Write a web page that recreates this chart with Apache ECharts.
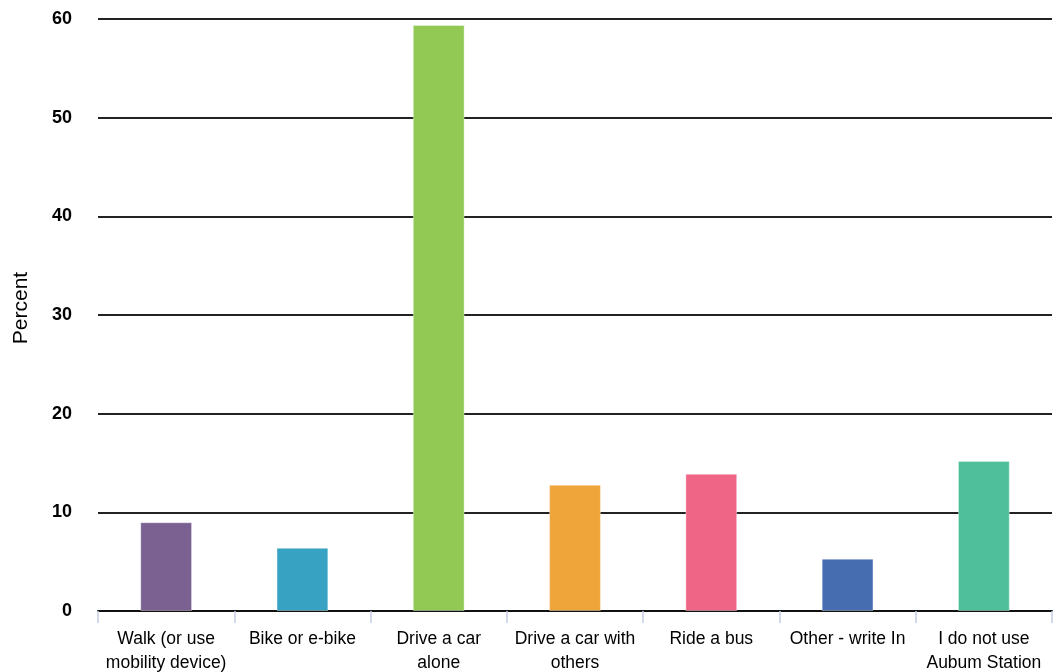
<!DOCTYPE html>
<html>
<head>
<meta charset="utf-8">
<script src="https://cdn.jsdelivr.net/npm/echarts@6/dist/echarts.min.js"></script>
<style>html,body{margin:0;padding:0;background:#fff}#c{width:1055px;height:672px}</style>
</head>
<body>
<div id="c"></div>
<script>
const categories = ["Walk (or use\nmobility device)", "Bike or e-bike", "Drive a car\nalone", "Drive a car with\nothers", "Ride a bus", "Other - write In", "I do not use\nAubum Station"];
const values = [9.0, 6.4, 59.4, 12.8, 13.9, 5.3, 15.2];
const colors = ["#7b6191", "#38a2c2", "#92c954", "#f0a53b", "#ef6585", "#476db1", "#4fbf9b"];
const yTicks = [0, 10, 20, 30, 40, 50, 60];

const FONT = 'Liberation Sans, Arial, sans-serif';
const chart = echarts.init(document.getElementById('c'), null, {renderer: 'canvas'});
chart.setOption({
  animation: false,
  grid: {left: 98, right: 3, top: 19, bottom: 61, containLabel: false, outerBoundsMode: 'none'},
  xAxis: {
    type: 'category',
    data: categories,
    axisLine: {show: true, lineStyle: {color: '#111', width: 2}},
    axisTick: {show: true, length: 12, lineStyle: {color: '#c3cde3', width: 1.5}},
    axisLabel: {color: '#000', fontFamily: FONT, fontSize: 17.5, lineHeight: 24, margin: 16, interval: 0, hideOverlap: false}
  },
  yAxis: {
    type: 'value',
    min: yTicks[0], max: yTicks[yTicks.length - 1], interval: 10,
    name: 'Percent',
    nameLocation: 'middle',
    nameGap: 66,
    nameRotate: 90,
    nameTextStyle: {color: '#000', fontFamily: FONT, fontSize: 21, padding: [0, 0, 0, 14]},
    axisLine: {show: false},
    axisTick: {show: false},
    splitLine: {show: true, lineStyle: {color: '#222', width: 2}},
    axisLabel: {color: '#000', fontFamily: FONT, fontSize: 18, fontWeight: 'bold', margin: 26}
  },
  series: [{
    type: 'bar',
    barWidth: '38%',
    data: values.map((v, i) => ({value: v, itemStyle: {color: colors[i], borderColor: 'rgba(255,255,255,0.35)', borderWidth: 1}}))
  }]
});
</script>
</body>
</html>
